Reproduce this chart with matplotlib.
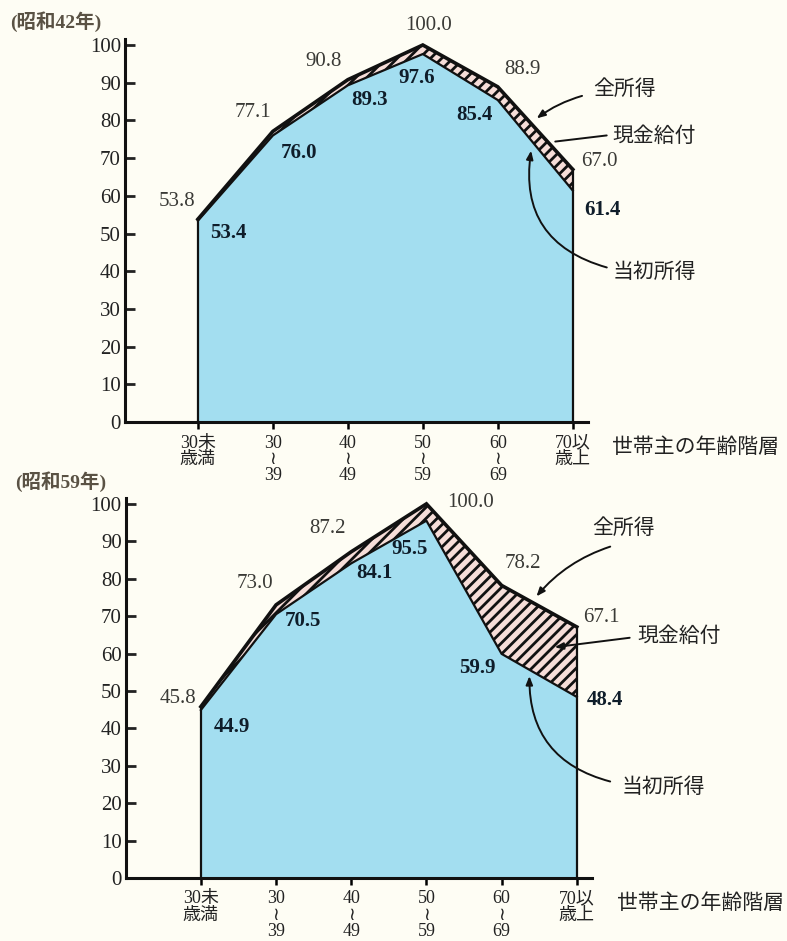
import matplotlib.pyplot as plt

plt.rcParams['font.family'] = ['Liberation Serif', 'Noto Sans CJK JP', 'DejaVu Sans']
plt.rcParams['hatch.linewidth'] = 2.0
plt.rcParams['hatch.color'] = '#111111'

# 年齢階層
edades = ["30未\n歳満", "30\n≀\n39", "40\n≀\n49", "50\n≀\n59", "60\n≀\n69", "70以\n歳上"]

# 昭和42年
total_42 = [53.8, 77.1, 90.8, 100.0, 88.9, 67.0]
inicial_42 = [53.4, 76.0, 89.3, 97.6, 85.4, 61.4]

# 昭和59年
total_59 = [45.8, 73.0, 87.2, 100.0, 78.2, 67.1]
inicial_59 = [44.9, 70.5, 84.1, 95.5, 59.9, 48.4]

# posiciones de las etiquetas (x, y en datos)
pos_total_42 = [(-0.28, 58.4), (0.73, 82.2), (1.67, 95.5), (3.07, 105.3), (4.33, 93.4), (5.36, 69.0)]
pos_inicial_42 = [(0.40, 50.1), (1.35, 71.4), (2.29, 85.4), (2.92, 91.2), (3.69, 81.4), (5.39, 56.2)]
pos_total_59 = [(-0.31, 48.0), (0.72, 78.7), (1.68, 93.3), (3.59, 100.3), (4.28, 84.0), (5.33, 69.6)]
pos_inicial_59 = [(0.41, 40.3), (1.36, 68.8), (2.31, 81.6), (2.78, 88.0), (3.68, 56.0), (5.37, 47.5)]

fondo = '#fefdf4'
azul = '#a3def0'
rosa = '#f6ddd8'

fig = plt.figure(figsize=(7.87, 9.41), dpi=100, facecolor=fondo)


def panel(rect, xlim, total, inicial, pos_t, pos_i, anot):
    ax = fig.add_axes(rect)
    ax.set_facecolor('none')
    x = list(range(len(total)))

    # area azul (当初所得) y area rayada (現金給付)
    ax.fill_between(x, 0, inicial, facecolor=azul, edgecolor='none', zorder=1)
    ax.fill_between(x, inicial, total, facecolor=rosa, edgecolor='#111111',
                    hatch='///', linewidth=0, zorder=2)
    ax.plot(x, total, color='#111111', lw=2.6, zorder=4, solid_joinstyle='miter')
    ax.plot(x, inicial, color='#111111', lw=1.6, zorder=4)
    ax.plot([0, 0], [0, total[0]], color='#111111', lw=1.6, zorder=4)
    ax.plot([5, 5], [0, total[5]], color='#111111', lw=1.6, zorder=4)

    for v, (px, py) in zip(total, pos_t):
        ax.text(px, py, f"{v:.1f}", ha='center', va='center', fontsize=15,
                color='#3a3a36', zorder=5, clip_on=False)
    for v, (px, py) in zip(inicial, pos_i):
        ax.text(px, py, f"{v:.1f}", ha='center', va='center', fontsize=15,
                color='#0f1d2a', fontweight='bold', zorder=5, clip_on=False)

    ax.set_xlim(*xlim)
    ax.set_ylim(0, 101.5)
    ax.set_yticks(range(0, 101, 10))
    ax.set_xticks(x)
    ax.set_xticklabels(edades, fontsize=13, linespacing=0.95, color='#222222')
    ax.tick_params(axis='y', direction='in', length=7, width=2, labelsize=15,
                   pad=3, colors='#222222')
    ax.tick_params(axis='x', direction='out', length=5, width=1.8, pad=4)
    for s in ['top', 'right']:
        ax.spines[s].set_visible(False)
    for s in ['left', 'bottom']:
        ax.spines[s].set_linewidth(2.2)
        ax.spines[s].set_color('#111111')

    ax.text(xlim[1] + 0.33, -7.0, "世帯主の年齢階層", fontsize=15, ha='left',
            va='center', color='#222222', clip_on=False)

    # anotaciones
    for texto, xytext, tail, head, rad, flecha in anot:
        ax.text(xytext[0], xytext[1], texto, fontsize=15, ha='left', va='center',
                color='#222222', clip_on=False)
        ax.annotate("", xy=head, xytext=tail, zorder=6,
                    arrowprops=dict(arrowstyle=flecha, color='#111111', lw=1.4,
                                    connectionstyle=f"arc3,rad={rad}"),
                    annotation_clip=False)
    return ax


anot_42 = [
    ("全所得", (5.27, 88.0), (5.16, 86.7), (4.49, 80.1), 0.1, '-|>,head_length=0.5,head_width=0.2'),
    ("現金給付", (5.53, 75.6), (5.49, 76.1), (4.73, 74.3), 0.0, '-'),
    ("当初所得", (5.53, 39.5), (5.49, 40.8), (4.45, 72.7), -0.45, '-|>,head_length=0.5,head_width=0.2'),
]
anot_59 = [
    ("全所得", (5.20, 93.3), (5.48, 88.8), (4.44, 74.7), 0.15, '-|>,head_length=0.5,head_width=0.2'),
    ("現金給付", (5.81, 64.3), (5.74, 64.3), (4.67, 61.6), 0.0, '-|>,head_length=0.5,head_width=0.2'),
    ("当初所得", (5.60, 24.0), (5.48, 25.6), (4.37, 54.7), -0.4, '-|>,head_length=0.5,head_width=0.2'),
]

panel([0.1588, 0.5515, 0.588, 0.4067], (-0.973, 5.2), total_42, inicial_42,
      pos_total_42, pos_inicial_42, anot_42)
panel([0.160, 0.0670, 0.592, 0.4035], (-0.997, 5.2), total_59, inicial_59,
      pos_total_59, pos_inicial_59, anot_59)

fig.text(0.0127, 0.9766, "(昭和42年)", fontsize=14, ha='left', va='center',
         color='#5a5244', fontweight='bold')
fig.text(0.019, 0.4878, "(昭和59年)", fontsize=14, ha='left', va='center',
         color='#5a5244', fontweight='bold')

plt.savefig("out.png", dpi=100, facecolor=fondo)
